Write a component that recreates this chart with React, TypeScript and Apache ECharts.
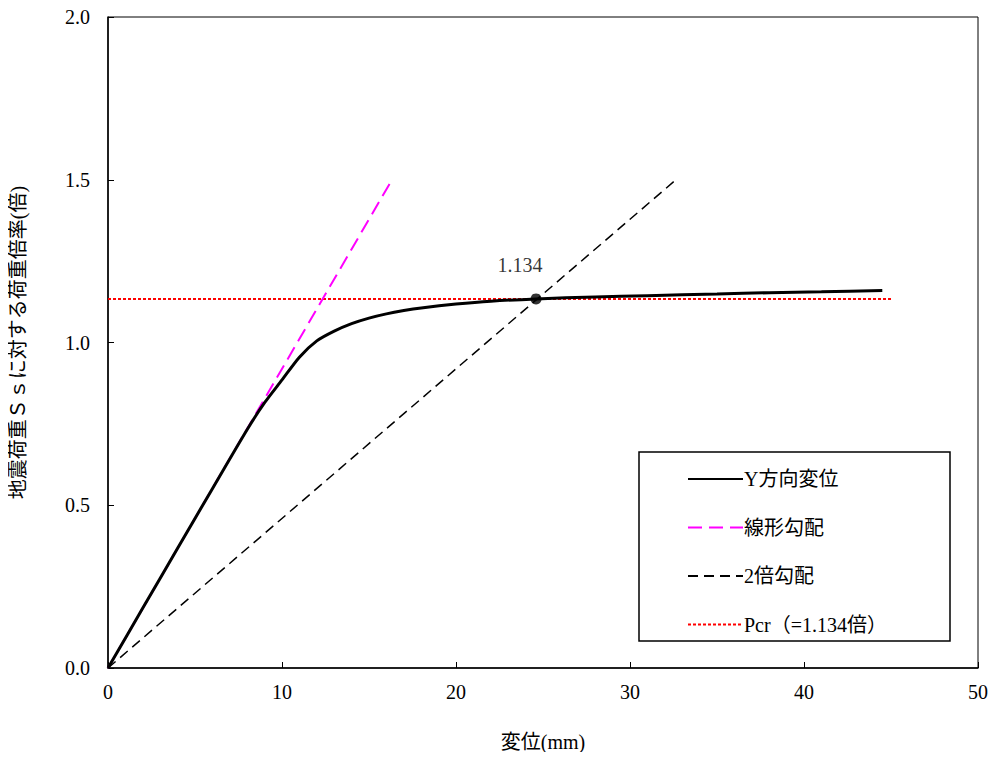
import React, { useEffect, useRef } from "react";
import * as echarts from "echarts";

const curveX = [0, 2, 4, 6, 8, 9, 10, 11, 12, 13, 14, 15, 16, 17, 18, 20, 22, 24.6, 28, 31, 35, 38, 41, 44.5];
const curveY = [0, 0.184, 0.368, 0.551, 0.733, 0.815, 0.885, 0.955, 1.005, 1.035, 1.058, 1.075, 1.088, 1.098, 1.106, 1.118, 1.127, 1.134, 1.14, 1.144, 1.149, 1.153, 1.156, 1.16];
const linearX = [0, 16.32];
const linearY = [0, 1.5];
const doubleX = [0, 32.64];
const doubleY = [0, 1.5];
const pcrValue = 1.134;
const pcrX = [0, 45.1];
const pcrPointX = 24.6;
const seriesNames = ["Y方向変位", "線形勾配", "2倍勾配", "Pcr（=1.134倍）"];
const xAxisName = "変位(mm)";
const yAxisName = "地震荷重Ｓｓに対する荷重倍率(倍)";

const FONT = "'Liberation Serif', 'Noto Sans CJK JP', serif";

export default function App() {
  const ref = useRef<HTMLDivElement>(null);
  useEffect(() => {
    if (!ref.current) return;
    const chart = echarts.init(ref.current, undefined, { renderer: "svg" });
    const zip = (xs: number[], ys: number[]) => xs.map((x, i) => [x, ys[i]]);
    chart.setOption({
      animation: false,
      backgroundColor: "#fff",
      textStyle: { fontFamily: FONT },
      grid: {
        left: 108,
        right: 18,
        top: 17,
        bottom: 92,
        show: true,
        borderColor: "#000",
        borderWidth: 1,
      },
      graphic: [
        {
          type: "rect",
          shape: { x: 639, y: 452, width: 311, height: 189 },
          style: { fill: "#fff", stroke: "#000", lineWidth: 1.5 },
          z: 5,
        },
      ],
      legend: {
        orient: "vertical",
        left: 682,
        top: 464,
        itemWidth: 55,
        itemHeight: 14,
        itemGap: 28.5,
        z: 10,
        itemStyle: { opacity: 0 },
        textStyle: { fontFamily: FONT, fontSize: 20, color: "#000", lineHeight: 20, padding: [0, 0, 0, -4] },
        data: seriesNames,
      },
      xAxis: {
        type: "value",
        min: 0,
        max: 50,
        interval: 10,
        name: xAxisName,
        nameLocation: "middle",
        nameGap: 64,
        nameTextStyle: { fontFamily: FONT, fontSize: 20, color: "#000" },
        axisLine: { lineStyle: { color: "#000", width: 1.5 } },
        axisTick: { inside: true, length: 6, lineStyle: { color: "#000" } },
        axisLabel: { fontFamily: FONT, fontSize: 20, color: "#000", margin: 14 },
        splitLine: { show: false },
      },
      yAxis: {
        type: "value",
        min: 0,
        max: 2,
        interval: 0.5,
        name: yAxisName,
        nameLocation: "middle",
        nameRotate: 90,
        nameGap: 80,
        nameTextStyle: { fontFamily: FONT, fontSize: 20, color: "#000" },
        axisLine: { lineStyle: { color: "#000", width: 1.5 } },
        axisTick: { inside: true, length: 6, lineStyle: { color: "#000" } },
        axisLabel: {
          fontFamily: FONT,
          fontSize: 20,
          color: "#000",
          margin: 18,
          formatter: (v: number) => v.toFixed(1),
        },
        splitLine: { show: false },
      },
      series: [
        {
          name: seriesNames[0],
          type: "line",
          data: zip(curveX, curveY),
          smooth: 0.25,
          symbol: "none",
          lineStyle: { color: "#000", width: 3 },
          itemStyle: { color: "#000" },
          z: 4,
        },
        {
          name: seriesNames[1],
          type: "line",
          data: zip(linearX, linearY),
          symbol: "none",
          lineStyle: { color: "#ff00ff", width: 2, type: [14, 7] },
          itemStyle: { color: "#ff00ff" },
          z: 3,
        },
        {
          name: seriesNames[2],
          type: "line",
          data: zip(doubleX, doubleY),
          symbol: "none",
          lineStyle: { color: "#000", width: 1.5, type: [10, 6] },
          itemStyle: { color: "#000" },
          z: 3,
        },
        {
          name: seriesNames[3],
          type: "line",
          data: pcrX.map((x) => [x, pcrValue]),
          symbol: "none",
          lineStyle: { color: "#ff0000", width: 2, type: [3, 2] },
          itemStyle: { color: "#ff0000" },
          z: 2,
        },
        {
          name: "Pcr点",
          type: "scatter",
          data: [[pcrPointX, pcrValue]],
          symbol: "circle",
          symbolSize: 11,
          itemStyle: { color: "#000" },
          z: 6,
          label: {
            show: true,
            position: "top",
            offset: [-16, -13],
            fontFamily: FONT,
            fontSize: 20,
            color: "#000",
            formatter: () => pcrValue.toFixed(3),
          },
        },
      ],
    });
    return () => chart.dispose();
  }, []);
  return <div ref={ref} style={{ width: 996, height: 760, margin: -8 }} />;
}
